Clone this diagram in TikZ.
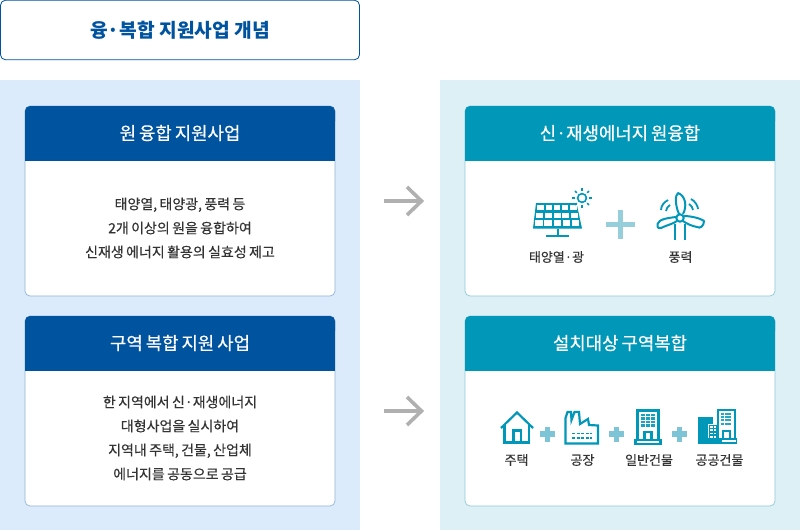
\documentclass[tikz,border=0pt]{standalone}
\usepackage{fontspec}
\setmainfont{Noto Sans CJK KR}
\newfontfamily\medfont[FakeBold=0.3,WordSpace=0.75]{Noto Sans CJK KR}
\newfontfamily\hdrfont[FakeBold=0.5,WordSpace=0.75]{Noto Sans CJK KR}
\newfontfamily\lblfont[FakeBold=0.4]{Noto Sans CJK KR}
\usetikzlibrary{calc}
\definecolor{navy}{HTML}{00539F}
\definecolor{teal}{HTML}{0097B9}
\definecolor{panelL}{HTML}{DCEBFB}
\definecolor{panelR}{HTML}{DDF0F6}
\definecolor{bordL}{HTML}{8FB4D6}
\definecolor{bordR}{HTML}{8FC8D8}
\definecolor{plusA}{HTML}{96CEDB}
\definecolor{plusB}{HTML}{7CC4D6}
\definecolor{txt}{HTML}{333333}
\definecolor{arrowc}{HTML}{B0B0B0}
\tikzset{
  x=1pt,y=-1pt,
  ptitle/.style={font=\fontsize{19.2}{22}\selectfont\bfseries,text=navy},
  hdrtext/.style={font=\hdrfont\fontsize{17.8}{20}\selectfont,text=white},
  bodytext/.style={font=\medfont\fontsize{14}{24}\selectfont,text=txt,align=center,inner sep=0pt},
  iconlabel/.style={font=\lblfont\fontsize{13}{14}\selectfont,text=txt,inner sep=0pt},
  ic/.style={draw=teal,line width=2.2pt,fill=none},
  arrowline/.style={draw=arrowc,line width=3.6pt},
}
\newcommand{\card}[7]{% name x y1 y2 fill border title
  \fill[white,draw=#6,line width=.7pt,rounded corners=5pt] (#2,#3) rectangle (#2+310,#4);
  \fill[#5,rounded corners=5pt] (#2,#3) rectangle (#2+310,#3+20);
  \fill[#5] (#2,#3+10) rectangle (#2+310,#3+55);
  \node[hdrtext] (#1) at (#2+155,#3+27) {#7};
}
\newcommand{\plusmark}[4]{\fill[#4] (#1-#3,#2-2.7) rectangle (#1+#3,#2+2.7); \fill[#4] (#1-2.7,#2-#3) rectangle (#1+2.7,#2+#3);}
\begin{document}
\begin{tikzpicture}
\useasboundingbox (0,0) rectangle (800,530);
\fill[white] (0,0) rectangle (800,530);
\fill[panelL] (0,80) rectangle (360,530);
\fill[panelR] (440,80) rectangle (800,530);
\node[draw=navy,line width=.8pt,rounded corners=5pt,minimum width=359pt,minimum height=59.5pt,inner sep=0pt,ptitle] (title) at (180,30) {융·복합 지원사업 개념};

\card{h1}{25}{106}{296}{navy}{bordL}{원 융합 지원사업}
\card{h2}{25}{316}{506}{navy}{bordL}{구역 복합 지원 사업}
\card{h3}{465}{106}{296}{teal}{bordR}{신·재생에너지 원융합}
\card{h4}{465}{316}{506}{teal}{bordR}{설치대상 구역복합}

\node[bodytext] (b1) at (180,228) {태양열, 태양광, 풍력 등\\2개 이상의 원을 융합하여\\신재생 에너지 활용의 실효성 제고};
\node[bodytext] (b2) at (180,438) {한 지역에서 신·재생에너지\\대형사업을 실시하여\\지역내 주택, 건물, 산업체\\에너지를 공동으로 공급};

% arrows
\coordinate (a1s) at (384,201); \coordinate (a1e) at (421,201);
\coordinate (a2s) at (384,411); \coordinate (a2e) at (421,411);
\draw[arrowline] (a1s) -- (a1e);
\draw[arrowline,miter limit=4] ($(a1e)+(-14,-14)$) -- ($(a1e)+(0.5,0)$) -- ($(a1e)+(-14,14)$);
\draw[arrowline] (a2s) -- (a2e);
\draw[arrowline,miter limit=4] ($(a2e)+(-14,-14)$) -- ($(a2e)+(0.5,0)$) -- ($(a2e)+(-14,14)$);

% solar panel
\fill[teal] (536,203) -- (576.5,203) -- (582,228.5) -- (533,228.5) -- cycle;
\foreach \ya/\yb/\xa/\xb in {205/210.2/537.4/576.6,212.8/217.9/536.4/577.8,220.4/225.8/535.3/579.2}{
  \foreach \c in {0,1,2,3,4}{
    \pgfmathsetmacro{\w}{(\xb-\xa+1.7)/5}
    \pgfmathsetmacro{\xl}{\xa+\c*\w}
    \pgfmathsetmacro{\xr}{\xl+\w-1.7}
    \fill[white] (\xl,\ya) rectangle (\xr,\yb);
  }
}
\draw[teal,line width=2pt] (557.5,228.5) -- (557.5,236);
\draw[teal,line width=2.2pt] (546,236) -- (569,236);
\fill[white] (582,198) circle (7);
\draw[teal,line width=1.6pt,fill=white] (582,198) circle (4.4);
\foreach \a in {0,45,...,315}{
  \draw[teal,line width=1.7pt] ($(582,198)+(\a:7.3)$) -- ($(582,198)+(\a:9.8)$);
}
\plusmark{620.5}{224.5}{14.5}{plusA}
\node[iconlabel] (l1) at (556.5,257) {태양열·광};

% wind turbine
\draw[teal,line width=2pt] (674.5,224) -- (674.5,240);
\draw[teal,line width=2pt] (685,224) -- (685,240);
\draw[ic,line width=2pt,line join=round,fill=white] (679,214) .. controls (675,205) and (675,195) .. (678,193) .. controls (686,196) and (687,207) .. (683,214);
\draw[ic,line width=2pt,line join=round,fill=white] (676,217) .. controls (668,218) and (659,219) .. (657.5,224) .. controls (657,228) and (659,229) .. (661,228) .. controls (667,225) and (673,224) .. (677,221);
\draw[ic,line width=2pt,line join=round,fill=white] (684,216) .. controls (690,216) and (700,218) .. (704,221) .. controls (704,226) and (700,229) .. (697,227) .. controls (692,226) and (687,224) .. (683,221);
\draw[teal,line width=2pt,fill=white] (680,218) circle (3.7);
\draw[teal,line width=1.8pt] (661,210) .. controls (661,206) and (664,202) .. (668,200);
\draw[teal,line width=1.8pt] (666,211) .. controls (666,209) and (668,206) .. (670,205);
\draw[teal,line width=1.8pt] (698,209) .. controls (698,206) and (695,201) .. (691,199);
\draw[teal,line width=1.8pt] (693,210) .. controls (693,208) and (691,205) .. (689,204);
\node[iconlabel] (l2) at (680.5,257) {풍력};

% house
\draw[ic,line join=miter] (501,428) -- (517,412.5) -- (533,428);
\draw[ic] (504.5,425) -- (504.5,442.5) -- (529,442.5) -- (529,425);
\draw[ic] (513.5,442.5) -- (513.5,430.5) -- (521,430.5) -- (521,442.5);
\node[iconlabel] (l3) at (516.5,460) {주택};
\plusmark{547.5}{434}{7.5}{plusB}

% factory
\draw[ic,line join=miter] (565.5,443.5) -- (565.5,418) -- (567.5,412) -- (571,412) -- (571.5,420) -- (574.5,412) -- (579,412) -- (580,424) -- (588,419) -- (589,425) -- (598,425.5) -- (598,443.5) -- cycle;
\draw[teal,line width=1.5pt,dash pattern=on 3pt off 1.6pt] (572,433.5) -- (592,433.5);
\draw[teal,line width=1.5pt,dash pattern=on 3pt off 1.6pt] (572,438) -- (592,438);
\node[iconlabel] (l4) at (582.5,460) {공장};
\plusmark{616.5}{434}{7.5}{plusB}

% office building
\fill[teal] (634,439) rectangle (662,445);
\fill[white] (637,440.5) rectangle (659,443);
\draw[ic] (637.5,439.5) -- (637.5,410.5) -- (658.5,410.5) -- (658.5,439.5);
\foreach \i in {0,1,2}{\foreach \j in {0,1,2,3}{
  \fill[teal!90] (641+\i*5,414+\j*3.4) rectangle (645+\i*5,416.3+\j*3.4);
}}
\draw[ic] (644.5,439.5) -- (644.5,432) -- (651.5,432) -- (651.5,439.5);
\node[iconlabel] (l5) at (649,460) {일반건물};
\plusmark{679.5}{434}{7.5}{plusB}

% public building
\fill[teal] (698,417) rectangle (713,444);
\fill[white] (708,423.5) rectangle (721.5,439);
\fill[teal] (709,424.5) rectangle (720.5,444);
\foreach \i in {0,1,2}{\foreach \j in {0,1,2,3}{
  \fill[white] (710+\i*3.6,426.3+\j*3.1) rectangle (712.6+\i*3.6,428.2+\j*3.1);
}}
\fill[white] (717,410) rectangle (735,438);
\draw[teal,line width=2pt] (718,438) -- (718,410) -- (734.5,410) -- (734.5,438);
\foreach \i in {0,1,2}{\foreach \j in {0,1,2,3}{
  \fill[teal!85] (721+\i*3.7,412.6+\j*3.3) rectangle (723.8+\i*3.7,414.6+\j*3.3);
}}
\draw[teal,line width=1.8pt] (723,438) -- (723,431) -- (730,431) -- (730,438);
\fill[teal] (707,438) rectangle (737,444);
\fill[white] (722,440) rectangle (735.5,442.3);
\node[iconlabel] (l6) at (719.5,460) {공공건물};
\end{tikzpicture}
\end{document}
